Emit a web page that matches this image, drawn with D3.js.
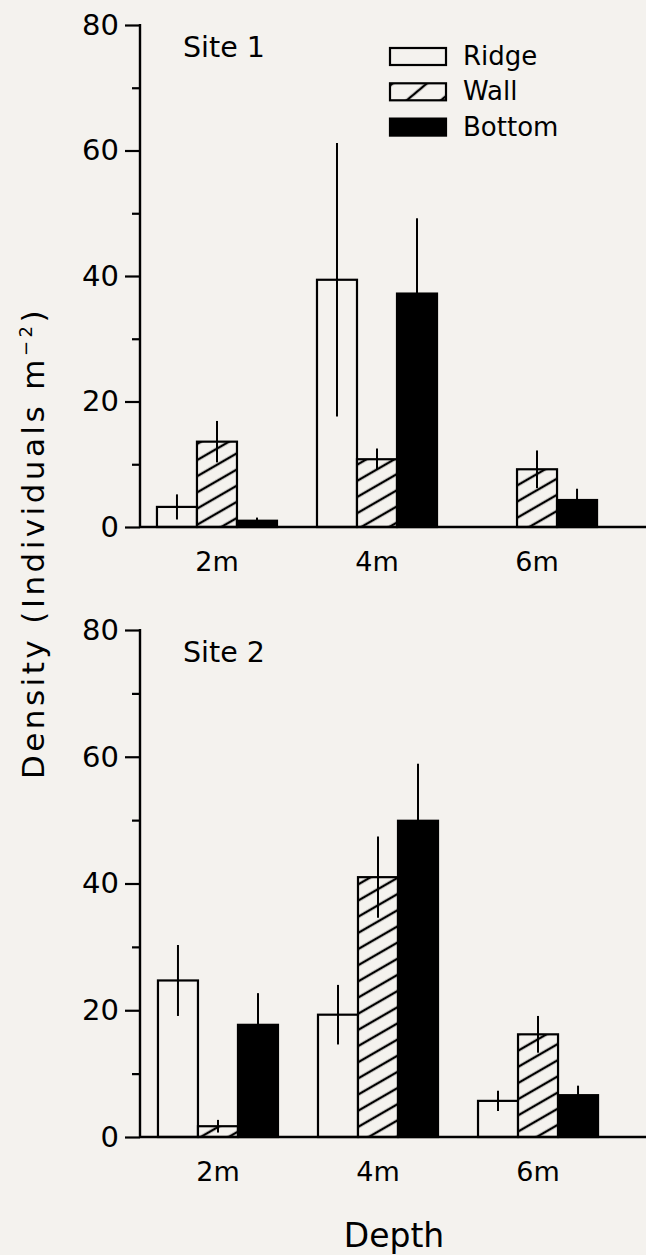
<!DOCTYPE html>
<html>
<head>
<meta charset="utf-8">
<script src="https://cdn.jsdelivr.net/npm/d3@7"></script>
<style>
  html, body { margin: 0; padding: 0; background: #f4f2ee; }
  svg { display: block; }
  text { font-family: "DejaVu Sans", sans-serif; fill: #000; }
</style>
</head>
<body>
<svg id="chart" width="646" height="1255"></svg>
<script>
// ---------------- data ----------------
const depths = ["2m", "4m", "6m"];
const habitats = ["Ridge", "Wall", "Bottom"];
const yTicksMajor = [0, 20, 40, 60, 80];
const yTicksMinor = [10, 30, 50, 70];
const siteLabels = ["Site 1", "Site 2"];

// Site 1 means and errors (per habitat, across depths)
const site1Ridge = [3.2, 39.4, 0];
const site1Wall = [13.6, 10.8, 9.2];
const site1Bottom = [1.0, 37.2, 4.3];
const site1RidgeErr = [2.0, 21.8, 0];
const site1WallErr = [3.3, 1.7, 3.0];
const site1BottomErr = [0.5, 12.0, 1.8];

// Site 2 means and errors
const site2Ridge = [24.7, 19.3, 5.7];
const site2Wall = [1.7, 41.0, 16.2];
const site2Bottom = [17.7, 49.9, 6.6];
const site2RidgeErr = [5.6, 4.7, 1.6];
const site2WallErr = [1.0, 6.4, 2.9];
const site2BottomErr = [5.0, 9.0, 1.5];

const yTitle = "Density (Individuals m";
const xTitle = "Depth";

// ---------------- build ----------------
function rows(r, w, b, re, we, be) {
  const out = [];
  depths.forEach((d, i) => {
    out.push({ depth: d, hab: "Ridge", v: r[i], e: re[i] });
    out.push({ depth: d, hab: "Wall", v: w[i], e: we[i] });
    out.push({ depth: d, hab: "Bottom", v: b[i], e: be[i] });
  });
  return out;
}
const panels = [
  { label: siteLabels[0], data: rows(site1Ridge, site1Wall, site1Bottom, site1RidgeErr, site1WallErr, site1BottomErr), yr: [527, 25], xr: [140, 614], axisX: 140 },
  { label: siteLabels[1], data: rows(site2Ridge, site2Wall, site2Bottom, site2RidgeErr, site2WallErr, site2BottomErr), yr: [1137, 630], xr: [141, 615], axisX: 140 }
];

const BG = "#f4f2ee";
const INK = "#000";
const svg = d3.select("#chart");

const defs = svg.append("defs");
const hatch = defs.append("pattern")
  .attr("id", "hatch").attr("patternUnits", "userSpaceOnUse")
  .attr("width", 14).attr("height", 14)
  .attr("patternTransform", "rotate(-30)");
hatch.append("rect").attr("width", 14).attr("height", 14).attr("fill", BG);
hatch.append("line").attr("x1", -1).attr("x2", 15).attr("y1", 7).attr("y2", 7)
  .attr("stroke", INK).attr("stroke-width", 2.4);

const hatchL = defs.append("pattern")
  .attr("id", "hatchL").attr("patternUnits", "userSpaceOnUse")
  .attr("width", 22).attr("height", 22)
  .attr("patternTransform", "translate(390,100) rotate(-40)");
hatchL.append("rect").attr("width", 22).attr("height", 22).attr("fill", BG);
hatchL.append("line").attr("x1", -1).attr("x2", 23).attr("y1", 11).attr("y2", 11)
  .attr("stroke", INK).attr("stroke-width", 2.4);

const fillOf = { Ridge: BG, Wall: "url(#hatch)", Bottom: INK };

panels.forEach(p => {
  const y = d3.scaleLinear().domain([0, 80]).range(p.yr);
  const x0 = d3.scaleBand().domain(depths).range(p.xr).paddingInner(0.25).paddingOuter(0.106);
  const x1 = d3.scaleBand().domain(habitats).range([0, x0.bandwidth()]);
  const g = svg.append("g");

  // bars
  const bars = p.data.filter(d => d.v > 0);
  g.selectAll("rect.bar").data(bars).join("rect")
    .attr("class", "bar")
    .attr("x", d => x0(d.depth) + x1(d.hab))
    .attr("y", d => y(d.v))
    .attr("width", x1.bandwidth())
    .attr("height", d => y(0) - y(d.v))
    .attr("fill", d => fillOf[d.hab])
    .attr("stroke", INK).attr("stroke-width", 2.2);

  // error bars
  g.selectAll("line.err").data(bars).join("line")
    .attr("class", "err")
    .attr("x1", d => x0(d.depth) + x1(d.hab) + x1.bandwidth() / 2)
    .attr("x2", d => x0(d.depth) + x1(d.hab) + x1.bandwidth() / 2)
    .attr("y1", d => y(d.v + d.e))
    .attr("y2", d => y(Math.max(0, d.v - d.e)))
    .attr("stroke", INK).attr("stroke-width", 2);

  // y axis major
  const ax = g.append("g").attr("transform", `translate(${p.axisX},0)`)
    .call(d3.axisLeft(y).tickValues(yTicksMajor).tickSize(15).tickPadding(6).tickFormat(d3.format("d")));
  ax.select(".domain").remove();
  ax.selectAll(".tick line").attr("stroke", INK).attr("stroke-width", 2.2);
  ax.selectAll(".tick text").attr("font-size", 29).attr("font-family", "DejaVu Sans").attr("fill", INK);
  const axm = g.append("g").attr("transform", `translate(${p.axisX},0)`)
    .call(d3.axisLeft(y).tickValues(yTicksMinor).tickSize(8).tickFormat(""));
  axm.select(".domain").remove();
  axm.selectAll(".tick line").attr("stroke", INK).attr("stroke-width", 2.2);

  // axis line and baseline
  g.append("line").attr("x1", p.axisX).attr("x2", p.axisX)
    .attr("y1", y(80) - 1).attr("y2", y(0))
    .attr("stroke", INK).attr("stroke-width", 2.4);
  g.append("line").attr("x1", p.axisX).attr("x2", 646)
    .attr("y1", y(0)).attr("y2", y(0))
    .attr("stroke", INK).attr("stroke-width", 2.4);

  // category labels
  g.selectAll("text.cat").data(depths).join("text")
    .attr("class", "cat")
    .attr("x", d => x0(d) + x0.bandwidth() / 2)
    .attr("y", y(0) + 44)
    .attr("text-anchor", "middle")
    .attr("font-size", 27)
    .text(d => d);

  // panel label
  g.append("text").attr("x", 183).attr("y", y(80) + 32)
    .attr("font-size", 28.5).text(p.label);
});

// legend
const leg = svg.append("g");
habitats.forEach((h, i) => {
  const yy = 48 + i * 35.3;
  leg.append("rect").attr("x", 390).attr("y", yy).attr("width", 56).attr("height", 17)
    .attr("fill", h === "Wall" ? "url(#hatchL)" : fillOf[h])
    .attr("stroke", INK).attr("stroke-width", 2.2);
  leg.append("text").attr("x", 463).attr("y", yy + 17)
    .attr("font-size", 26).text(h);
});

// axis titles
svg.append("text").attr("x", 394).attr("y", 1247)
  .attr("text-anchor", "middle").attr("font-size", 33).text(xTitle);

const yt = svg.append("text")
  .attr("transform", "translate(44,543) rotate(-90)")
  .attr("text-anchor", "middle").attr("font-size", 31);
yt.append("tspan").text(yTitle);
yt.append("tspan").attr("font-size", 18).attr("dy", -12).text("−2");
yt.append("tspan").attr("dy", 12).text(")");
// stretch letter spacing slightly to match the wide original face
const natural = yt.node().getComputedTextLength();
const target = 472;
const nChars = (yTitle + "−2)").length;
yt.attr("letter-spacing", Math.max(0, (target - natural) / nChars));
</script>
</body>
</html>
